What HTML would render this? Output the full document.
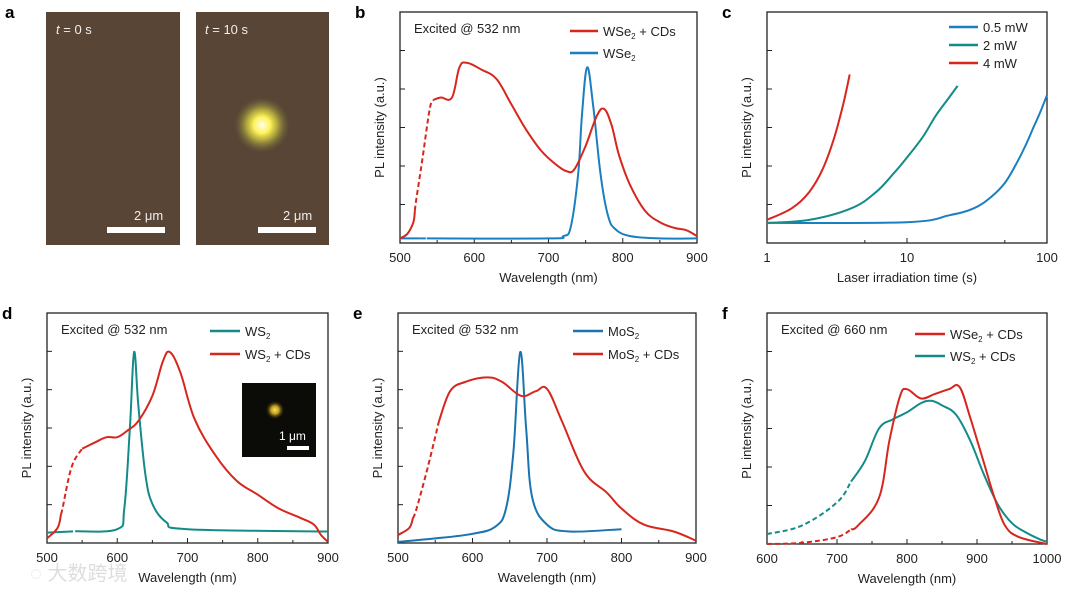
<!DOCTYPE html>
<html><head><meta charset="utf-8"><style>
html,body{margin:0;padding:0;background:#fff;}
svg{display:block;font-family:"Liberation Sans","Noto Sans CJK SC",sans-serif;}
</style></head><body>
<svg id="fig" width="1080" height="589" viewBox="0 0 1080 589">
<defs>
<radialGradient id="spot" cx="0.5" cy="0.5" r="0.5">
<stop offset="0" stop-color="#fffff0"/><stop offset="0.3" stop-color="#fff25a"/><stop offset="0.55" stop-color="#c8c040" stop-opacity="0.8"/><stop offset="1" stop-color="#6a6a3a" stop-opacity="0"/>
</radialGradient>
<radialGradient id="spot2" cx="0.5" cy="0.5" r="0.5">
<stop offset="0" stop-color="#ffe060"/><stop offset="0.4" stop-color="#c0a020"/><stop offset="1" stop-color="#000" stop-opacity="0"/>
</radialGradient>
</defs>
<g>
<text x="5" y="18" font-size="17" font-weight="bold">a</text>
<rect x="46" y="12" width="134" height="233" fill="#584536"/>
<rect x="196" y="12" width="133" height="233" fill="#584536"/>
<circle cx="262" cy="125" r="28" fill="url(#spot)"/>
<text x="56" y="34" font-size="13" fill="#eee"><tspan font-style="italic">t</tspan> = 0 s</text>
<text x="205" y="34" font-size="13" fill="#eee"><tspan font-style="italic">t</tspan> = 10 s</text>
<text x="134" y="220" font-size="13" fill="#eee">2 μm</text>
<rect x="107" y="227" width="58" height="6" fill="#fff"/>
<text x="283" y="220" font-size="13" fill="#eee">2 μm</text>
<rect x="258" y="227" width="58" height="6" fill="#fff"/>
</g>
<g id="charts"></g>
<g>
<rect x="242" y="383" width="74" height="74" fill="#0b0b08"/>
<circle cx="275" cy="410" r="10" fill="url(#spot2)"/>
<text x="279" y="440" font-size="12" fill="#fff">1 μm</text>
<rect x="287" y="446" width="22" height="4" fill="#fff"/>
</g>
<text x="30" y="580" font-size="20" fill="#d8d8d8" opacity="0.85">◌ 大数跨境</text>
</svg>
<script>
// ---- data (wavelength in nm / time in s, intensity in normalized a.u.) ----
const bRedX=[500,510,518,522,530,540,545,555,570,580,590,610,630,650,670,690,710,725,735,750,765,775,785,795,810,830,850,870,885,900];
const bRedY=[0.02,0.04,0.09,0.19,0.36,0.58,0.62,0.63,0.63,0.76,0.78,0.75,0.71,0.60,0.49,0.40,0.34,0.31,0.32,0.42,0.55,0.58,0.51,0.38,0.25,0.14,0.09,0.065,0.056,0.03];
const bBlueX=[500,700,720,730,740,745,752,760,770,780,790,810,850,900];
const bBlueY=[0.02,0.02,0.03,0.07,0.3,0.55,0.76,0.6,0.3,0.12,0.06,0.03,0.02,0.02];
const cRedX=[1,1.5,2,2.5,3,3.5,3.9];
const cRedY=[0.10,0.15,0.22,0.32,0.45,0.6,0.73];
const cGreenX=[1,2,4,6,8,10,13,16,20,23];
const cGreenY=[0.087,0.1,0.15,0.22,0.3,0.37,0.46,0.55,0.63,0.68];
const cBlueX=[1,10,20,30,40,50,60,70,80,90,100];
const cBlueY=[0.087,0.09,0.12,0.15,0.2,0.26,0.34,0.42,0.5,0.57,0.64];
const dRedX=[500,515,522,535,550,570,585,600,615,630,650,665,675,690,710,740,770,800,830,860,880,890,900];
const dRedY=[0.02,0.065,0.15,0.33,0.41,0.44,0.46,0.46,0.49,0.53,0.64,0.79,0.83,0.74,0.54,0.38,0.27,0.21,0.15,0.11,0.08,0.035,0.005];
const dTealX=[500,600,610,618,624,630,640,650,670,700,900];
const dTealY=[0.045,0.06,0.15,0.5,0.83,0.6,0.3,0.17,0.09,0.06,0.05];
const eRedX=[500,515,525,540,555,570,590,620,640,665,685,700,720,750,780,800,830,870,900];
const eRedY=[0.035,0.065,0.15,0.33,0.53,0.66,0.7,0.72,0.7,0.64,0.66,0.67,0.53,0.31,0.22,0.15,0.08,0.05,0.01];
const eBlueX=[500,550,600,630,645,655,664,672,680,700,730,800];
const eBlueY=[0.005,0.02,0.04,0.07,0.15,0.4,0.83,0.5,0.2,0.08,0.05,0.06];
const fRedX=[600,650,700,730,760,775,790,800,820,840,860,875,890,910,925,940,960,1000];
const fRedY=[0.0,0.005,0.03,0.08,0.2,0.45,0.64,0.67,0.63,0.65,0.67,0.68,0.55,0.35,0.2,0.08,0.03,0.0];
const fTealX=[600,650,700,720,740,760,780,800,820,835,850,870,890,910,930,950,970,990,1000];
const fTealY=[0.043,0.08,0.18,0.27,0.36,0.5,0.54,0.57,0.61,0.62,0.6,0.56,0.45,0.3,0.17,0.09,0.05,0.02,0.01];
const ticksNm5=[500,600,700,800,900];
const ticksNmF=[600,700,800,900,1000];
const ticksLog=[1,10,100];

const NS='http://www.w3.org/2000/svg';
const root=document.getElementById('charts');
function mk(tag,attrs,parent){const e=document.createElementNS(NS,tag);for(const k in attrs)e.setAttribute(k,attrs[k]);(parent||root).appendChild(e);return e;}
const RED='#d7261e',BLUE='#1a7fc1',TEAL='#138b88',BLUE2='#1a74b0';
function smoothPath(pts){
  if(pts.length<3) return pts.map((q,i)=>(i?'L':'M')+q[0].toFixed(1)+' '+q[1].toFixed(1)).join('');
  let d='M'+pts[0][0].toFixed(1)+' '+pts[0][1].toFixed(1);
  const k=0.18;
  for(let i=0;i<pts.length-1;i++){
    const p0=pts[i-1]||pts[i],p1=pts[i],p2=pts[i+1],p3=pts[i+2]||p2;
    const c1=[p1[0]+(p2[0]-p0[0])*k,p1[1]+(p2[1]-p0[1])*k];
    const c2=[p2[0]-(p3[0]-p1[0])*k,p2[1]-(p3[1]-p1[1])*k];
    d+='C'+c1[0].toFixed(1)+' '+c1[1].toFixed(1)+' '+c2[0].toFixed(1)+' '+c2[1].toFixed(1)+' '+p2[0].toFixed(1)+' '+p2[1].toFixed(1);
  }
  return d;
}
function panel(p){
  const g=mk('g',{});
  
  
  const sx=v=>p.log? p.x0+(Math.log10(v)-Math.log10(p.xmin))/(Math.log10(p.xmax)-Math.log10(p.xmin))*(p.x1-p.x0) : p.x0+(v-p.xmin)/(p.xmax-p.xmin)*(p.x1-p.x0);
  const sy=v=>p.y1-v*(p.y1-p.y0);
  const box=mk('rect',{x:p.x0,y:p.y0,width:p.x1-p.x0,height:p.y1-p.y0,fill:'none',stroke:'#222','stroke-width':1.3},g);
  
  
  const lab=mk('text',{x:p.x0-45,y:p.y0+6,'font-size':17,'font-weight':'bold'},g);lab.textContent=p.id;
  
  
  for(let i=1;i<=5;i++){const y=p.y1-i*(p.y1-p.y0)/6;mk('line',{x1:p.x0,x2:p.x0+5,y1:y,y2:y,stroke:'#222'},g);}
  p.ticks.forEach((t,i)=>{const x=sx(t);mk('line',{x1:x,x2:x,y1:p.y1,y2:p.y1-5,stroke:'#222'},g);
    const tl=mk('text',{x:x,y:p.y1+19,'font-size':13,'text-anchor':'middle',fill:'#222'},g);tl.textContent=t;
    
    
    if(i<p.ticks.length-1){const m=p.log? t*5 : (t+p.ticks[i+1])/2;const xm=sx(m);mk('line',{x1:xm,x2:xm,y1:p.y1,y2:p.y1-3,stroke:'#222'},g);}
  });
  const xt=mk('text',{x:(p.x0+p.x1)/2,y:p.y1+39,'font-size':13,'text-anchor':'middle',fill:'#222'},g);xt.textContent=p.xtitle;
  
  
  const yc=(p.y0+p.y1)/2;
  const yt=mk('text',{x:p.x0-16,y:yc,'font-size':13,'text-anchor':'middle',fill:'#222',transform:`rotate(-90 ${p.x0-16} ${yc})`},g);yt.textContent='PL intensity (a.u.)';
  
  
  if(p.note){const n=mk('text',{x:p.x0+14,y:p.y0+21,'font-size':13,fill:'#222'},g);n.textContent=p.note;
    
    }
  p.series.forEach(s=>{
    const pts=s.x.map((v,i)=>[sx(v),sy(s.y[i])]);
    if(s.dash){
      const a=s.x.map((v,i)=>[v,pts[i]]);
      const pre=a.filter(q=>q[0]<s.dash[0]).map(q=>q[1]);
      const mid=a.filter(q=>q[0]>s.dash[0]&&q[0]<s.dash[1]).map(q=>q[1]);
      const post=a.filter(q=>q[0]>s.dash[1]).map(q=>q[1]);
      const interp=v=>{for(let i=0;i<s.x.length-1;i++){if(v>=s.x[i]&&v<=s.x[i+1]){const t=(v-s.x[i])/(s.x[i+1]-s.x[i]);return [sx(v),sy(s.y[i]+t*(s.y[i+1]-s.y[i]))];}}return null;};
      const b0=interp(s.dash[0]),b1=interp(s.dash[1]);
      const P1=pre.concat(b0?[b0]:[]),P2=(b0?[b0]:[]).concat(mid,b1?[b1]:[]),P3=(b1?[b1]:[]).concat(post);
      [[P1,false],[P2,true],[P3,false]].forEach(([arr,d])=>{if(arr.length>1){const e=mk('path',{d:smoothPath(arr),fill:'none',stroke:s.c,'stroke-width':2,'stroke-dasharray':d?'5 3':'none','stroke-linejoin':'round'},g);
        
        }});
    } else {
      const e=mk('path',{d:smoothPath(pts),fill:'none',stroke:s.c,'stroke-width':2,'stroke-linejoin':'round'},g);
      
      
    }
  });
  p.legend.forEach((L,i)=>{
    const y=p.lg[1]+i*p.lg[3];
    const ln=mk('line',{x1:p.lg[0],x2:p.lg[0]+p.lg[2],y1:y,y2:y,stroke:L.c,'stroke-width':2.5},g);
    
    
    const t=mk('text',{x:p.lg[0]+p.lg[2]+5,y:y+5,'font-size':13,fill:'#222'},g);
    
    
    L.t.forEach(seg=>{const ts=mk('tspan',seg[1]?{'font-size':8,dy:3}:{dy:seg[2]||0},t);ts.textContent=seg[0];});
  });
}
const sub=(a,b,c)=>[[a],[b,1],[c,0,-3]];
panel({id:'b',x0:400,x1:697,y0:12,y1:243,xmin:500,xmax:900,ticks:ticksNm5,xtitle:'Wavelength (nm)',note:'Excited @ 532 nm',
  series:[{name:'wse2-line',x:bBlueX,y:bBlueY,c:BLUE,dash:[528,536]},{name:'wse2-cds-line',x:bRedX,y:bRedY,c:RED,dash:[520,545]}],
  legend:[{c:RED,t:sub('WSe','2',' + CDs')},{c:BLUE,t:[['WSe'],['2',1]]}],lg:[570,31,28,22]});
panel({id:'c',x0:767,x1:1047,y0:12,y1:243,xmin:1,xmax:100,log:true,ticks:ticksLog,xtitle:'Laser irradiation time (s)',
  series:[{name:'line-0-5mw',x:cBlueX,y:cBlueY,c:BLUE},{name:'line-2mw',x:cGreenX,y:cGreenY,c:TEAL},{name:'line-4mw',x:cRedX,y:cRedY,c:RED}],
  legend:[{c:BLUE,t:[['0.5 mW']]},{c:TEAL,t:[['2 mW']]},{c:RED,t:[['4 mW']]}],lg:[949,27,29,18]});
panel({id:'d',x0:47,x1:328,y0:313,y1:543,xmin:500,xmax:900,ticks:ticksNm5,xtitle:'Wavelength (nm)',note:'Excited @ 532 nm',
  series:[{name:'ws2-line',x:dTealX,y:dTealY,c:TEAL,dash:[530,540]},{name:'ws2-cds-line',x:dRedX,y:dRedY,c:RED,dash:[520,550]}],
  legend:[{c:TEAL,t:[['WS'],['2',1]]},{c:RED,t:sub('WS','2',' + CDs')}],lg:[210,331,30,23]});
panel({id:'e',x0:398,x1:696,y0:313,y1:543,xmin:500,xmax:900,ticks:ticksNm5,xtitle:'Wavelength (nm)',note:'Excited @ 532 nm',
  series:[{name:'mos2-line',x:eBlueX,y:eBlueY,c:BLUE2},{name:'mos2-cds-line',x:eRedX,y:eRedY,c:RED,dash:[520,555]}],
  legend:[{c:BLUE2,t:[['MoS'],['2',1]]},{c:RED,t:sub('MoS','2',' + CDs')}],lg:[573,331,30,23]});
panel({id:'f',x0:767,x1:1047,y0:313,y1:544,xmin:600,xmax:1000,ticks:ticksNmF,xtitle:'Wavelength (nm)',note:'Excited @ 660 nm',
  series:[{name:'ws2-cds-line',x:fTealX,y:fTealY,c:TEAL,dash:[600,720]},{name:'wse2-cds-line',x:fRedX,y:fRedY,c:RED,dash:[600,720]}],
  legend:[{c:RED,t:sub('WSe','2',' + CDs')},{c:TEAL,t:sub('WS','2',' + CDs')}],lg:[915,334,30,22]});
</script>
</body></html>
